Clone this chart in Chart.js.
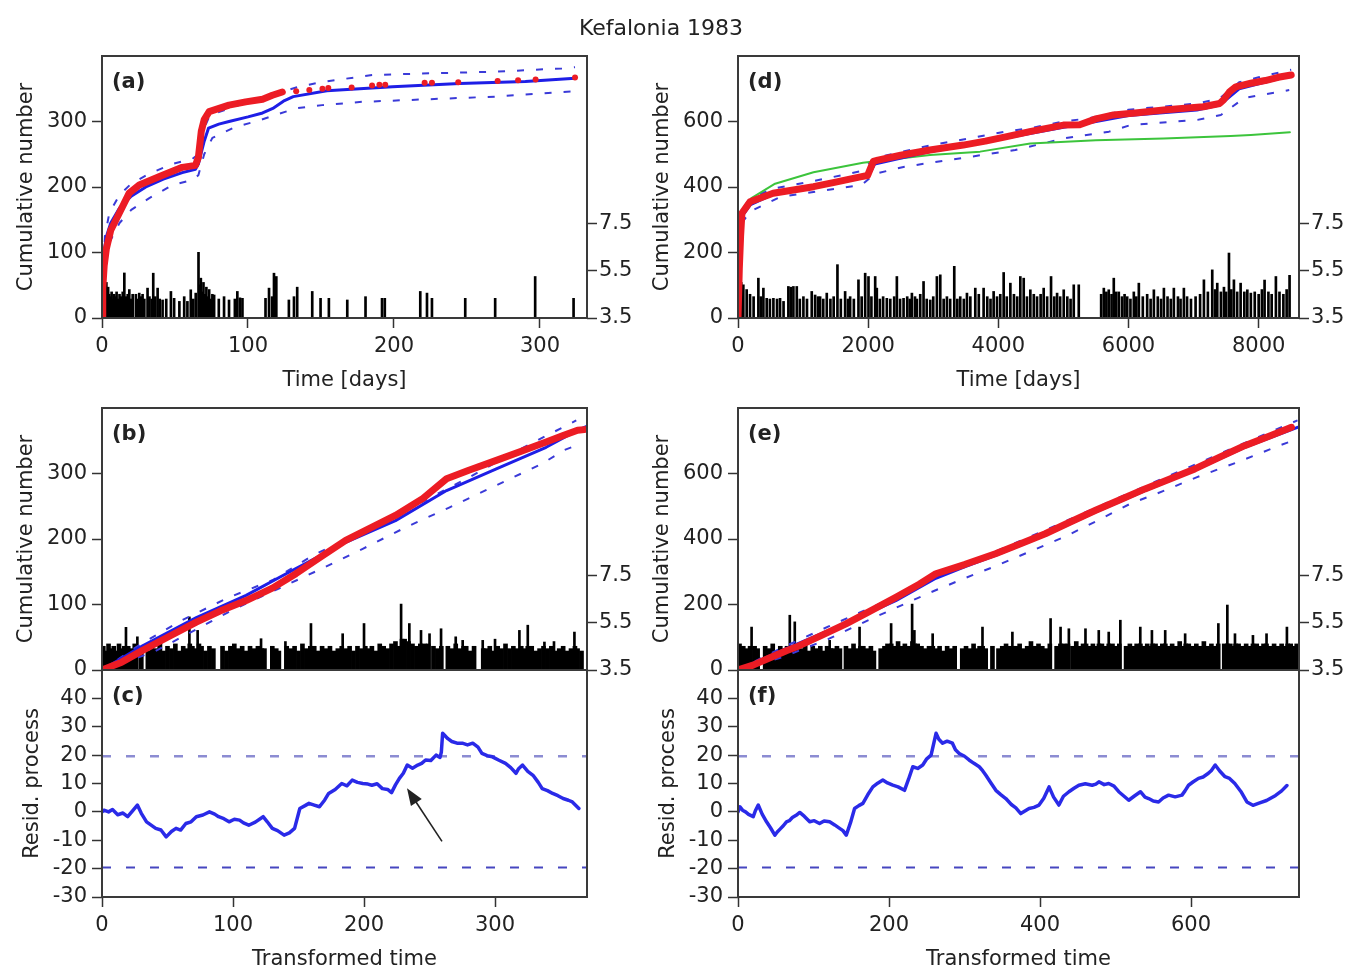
<!DOCTYPE html>
<html><head><meta charset="utf-8">
<script src="https://cdn.jsdelivr.net/npm/chart.js@4.4.1/dist/chart.umd.min.js"></script>
<style>
html,body{margin:0;padding:0;background:#fff;}
#wrap{position:relative;width:1354px;height:973px;overflow:hidden;}
#wrap canvas{position:absolute;left:0;top:0;}
</style></head><body><div id="wrap">
<canvas id="ca" width="1354" height="973"></canvas>
<canvas id="cd" width="1354" height="973"></canvas>
<canvas id="cb" width="1354" height="973"></canvas>
<canvas id="ce" width="1354" height="973"></canvas>
<canvas id="cc" width="1354" height="973"></canvas>
<canvas id="cf" width="1354" height="973"></canvas>
</div>
<script>
// ---------------- DATA ----------------
const figTitle = 'Kefalonia 1983';
const xTicksDaysA = [0, 100, 200, 300];
const xTicksDaysD = [0, 2000, 4000, 6000, 8000];
const xTicksTransC = [0, 100, 200, 300];
const xTicksTransF = [0, 200, 400, 600];
const yTicksA = [0, 100, 200, 300];
const yTicksD = [0, 200, 400, 600];
const yTicksResid = [-30, -20, -10, 0, 10, 20, 30, 40];
const magTicks = [3.5, 5.5, 7.5];

// (a) cumulative number vs time [days]
const redA_t = [0, 0.5, 1.5, 3, 6, 11.8, 18.7, 25.5, 41.5, 55, 64, 66, 68, 70, 73.4, 87, 98.4, 110, 116.7, 123.5];
const redA_n = [0, 45, 80, 106, 134, 160, 191, 203, 218, 230, 233, 245, 285, 303, 315, 325, 330, 334, 340, 345];
const redA_late_t = [133, 142, 151, 155, 171, 185, 190, 194, 221, 226, 244, 271, 285, 297, 324];
const redA_late_n = [346, 348, 350, 351, 352, 355, 356, 356, 359, 359, 360, 362, 363, 364, 367];
const blueA_t = [0, 1, 3, 6, 12, 20, 30, 42, 55, 64, 66, 70, 73, 80, 87, 100, 110, 117, 125, 131, 154, 199, 245, 290, 324];
const blueA_n = [0, 95, 124, 145, 168, 186, 200, 212, 222, 227, 235, 270, 290, 296, 300, 307, 313, 320, 332, 338, 347, 353, 358, 361, 366];
const upperA_t = [0, 2, 5, 12, 20, 32, 48, 62, 66, 70, 74, 90, 105, 119, 133, 150, 185, 224, 269, 315, 324];
const upperA_n = [0, 125, 160, 188, 205, 220, 235, 243, 250, 290, 310, 322, 334, 342, 352, 360, 371, 373.5, 376, 381, 383];
const lowerA_t = [0, 2, 5, 12, 20, 32.4, 48.3, 62, 66, 70, 75.6, 91.6, 105.3, 119, 132.7, 150.8, 178, 223.7, 269.3, 315, 324];
const lowerA_n = [0, 80, 115, 145, 165, 183, 203, 211, 218, 250, 275, 292, 300, 310, 320, 325, 330, 334, 338, 345, 346];
const magA = [[0.3,5.1],[0.8,4.9],[1.2,5.0],[1.6,5.25],[2.0,4.8],[2.5,4.7],[3.0,5.0],[3.5,4.6],[4.2,4.8],[5.0,4.5],[5.8,4.4],[6.6,4.6],[7.5,4.3],[8.3,4.5],[9.2,4.4],[10.0,4.6],[11.0,4.3],[12.0,4.5],[13.0,4.4],[14.2,4.6],[15.3,5.4],[16.5,4.4],[17.6,4.5],[18.7,4.7],[20.0,4.3],[21.0,4.5],[23.2,4.5],[24.5,4.3],[25.5,4.55],[26.8,4.4],[27.8,4.5],[29.0,4.3],[31.2,4.76],[32.5,4.4],[34.0,4.3],[35.1,5.39],[36.5,4.4],[38.1,4.76],[39.5,4.3],[41.5,4.26],[44,4.3],[47.2,4.62],[49.4,4.33],[53,4.2],[56.3,4.4],[58.5,4.2],[60.8,4.69],[62.5,4.3],[64.2,4.55],[66.1,6.27],[67.0,4.9],[67.7,5.18],[68.5,4.6],[69.5,5.0],[70.5,4.5],[71.5,4.8],[72.5,4.4],[73.4,4.7],[74.5,4.3],[75.6,4.5],[76.8,4.47],[80,4.3],[83.6,4.4],[87,4.26],[91,4.3],[92.7,4.62],[94.5,4.35],[96.2,4.33],[112,4.33],[114.4,4.76],[116.5,4.4],[117.8,5.39],[119.4,5.25],[128,4.26],[131.5,4.4],[133.7,4.8],[144,4.62],[149.7,4.33],[155.4,4.33],[168,4.26],[180.5,4.4],[191.8,4.33],[193.7,4.33],[218,4.62],[222.6,4.55],[226,4.33],[248.8,4.33],[269.3,4.33],[296.7,5.25],[323,4.33]];

// (d) cumulative number vs time [days], long period
const redD_t = [0, 20, 40, 60, 185, 540, 1160, 1500, 1880, 1990, 2080, 2150, 2500, 2950, 3460, 3800, 4130, 4500, 5000, 5250, 5500, 5770, 6100, 6540, 7150, 7400, 7460, 7550, 7650, 7880, 8100, 8300, 8500];
const redD_n = [0, 150, 250, 320, 355, 381, 401, 415, 431, 435, 478, 482, 497, 513, 528, 540, 554, 570, 589, 590, 608, 620, 626, 635, 645, 655, 666, 690, 706, 717, 725, 735, 742];
const blueD_t = [0, 30, 60, 185, 540, 1160, 1880, 2000, 2100, 2950, 3460, 4130, 5000, 5500, 6000, 7050, 7400, 7700, 8000, 8500];
const blueD_n = [0, 250, 310, 345, 378, 400, 428, 432, 470, 508, 525, 550, 582, 600, 618, 635, 650, 700, 715, 740];
const upperD_t = [0, 60, 185, 540, 1160, 1880, 2100, 2950, 3460, 4130, 4500, 5000, 5400, 6000, 7050, 7400, 7700, 8000, 8500];
const upperD_n = [0, 330, 365, 395, 418, 448, 488, 527, 545, 570, 580, 600, 610, 636, 655, 670, 720, 735, 758];
const lowerD_t = [0, 60, 185, 650, 1570, 1900, 2100, 2560, 3230, 4260, 5030, 5700, 6030, 7060, 7420, 7780, 8470];
const lowerD_n = [0, 290, 325, 370, 397, 406, 440, 462, 482, 513, 549, 569, 589, 605, 620, 672, 696];
const greenD_t = [0, 30, 60, 200, 570, 1160, 1920, 2950, 3720, 4490, 5500, 6540, 7570, 7880, 8480];
const greenD_n = [0, 250, 320, 365, 410, 445, 474, 498, 508, 533, 543, 548, 556, 559, 567];
const magD = [[0,5.4],[15,5.3],[31,5.39],[50,5.0],[82,4.9],[133,4.7],[185,4.5],[240,4.4],[313,5.18],[350,4.4],[390,4.76],[441,4.33],[490,4.3],[544,4.33],[600,4.3],[646,4.33],[700,4.2],[774,4.83],[810,4.8],[851,4.83],[903,4.83],[950,4.3],[1005,4.4],[1060,4.3],[1133,4.62],[1185,4.47],[1230,4.4],[1262,4.4],[1310,4.3],[1364,4.55],[1420,4.3],[1470,4.4],[1528,5.75],[1580,4.3],[1646,4.62],[1690,4.3],[1723,4.4],[1780,4.3],[1851,5.11],[1900,4.4],[1954,5.39],[2005,5.25],[2050,4.4],[2108,5.25],[2133,4.76],[2180,4.3],[2230,4.4],[2287,4.33],[2340,4.3],[2400,4.4],[2441,5.25],[2490,4.3],[2544,4.33],[2600,4.4],[2640,4.3],[2672,4.55],[2720,4.4],[2749,4.3],[2800,4.5],[2851,5.04],[2900,4.3],[2954,4.26],[3000,4.4],[3056,5.25],[3108,5.32],[3160,4.3],[3210,4.4],[3260,4.3],[3323,5.68],[3370,4.3],[3415,4.4],[3470,4.3],[3518,4.55],[3570,4.4],[3646,4.76],[3700,4.5],[3774,4.76],[3830,4.4],[3880,4.3],[3928,4.62],[3980,4.4],[4030,4.5],[4082,5.42],[4130,4.4],[4185,4.97],[4240,4.5],[4290,4.4],[4338,5.25],[4390,5.18],[4440,4.4],[4492,4.69],[4545,4.5],[4595,4.4],[4650,4.5],[4697,4.76],[4750,4.4],[4810,5.25],[4860,4.4],[4903,4.55],[4950,4.4],[5005,4.69],[5060,4.4],[5110,4.3],[5159,4.9],[5236,4.9],[5580,4.5],[5621,4.76],[5660,4.6],[5697,4.69],[5740,4.5],[5774,5.18],[5810,4.6],[5851,4.6],[5900,4.4],[5940,4.5],[5980,4.4],[6030,4.3],[6082,4.6],[6120,4.4],[6159,4.97],[6220,4.4],[6287,4.5],[6340,4.3],[6390,4.69],[6450,4.4],[6500,4.3],[6544,4.76],[6600,4.4],[6650,4.3],[6697,4.76],[6760,4.4],[6800,4.3],[6851,4.76],[6900,4.4],[6960,4.3],[7031,4.4],[7100,4.5],[7159,5.11],[7220,4.6],[7287,5.53],[7330,4.7],[7364,4.97],[7420,4.6],[7467,4.8],[7500,4.6],[7544,6.24],[7580,4.7],[7620,5.11],[7670,4.6],[7723,4.97],[7780,4.6],[7826,4.69],[7880,4.55],[7940,4.6],[8000,4.5],[8050,4.7],[8091,5.1],[8150,4.6],[8200,4.5],[8265,5.25],[8320,4.6],[8380,4.5],[8430,4.7],[8475,5.3]];

// (b) cumulative number vs transformed time (short period)
const redB_t = [0, 15, 31, 50, 72, 90, 110, 130, 148, 165, 186, 205, 224, 245, 263, 280, 301, 320, 339, 352, 363, 368];
const redB_n = [0, 12, 30, 50, 73, 90, 106, 125, 147, 170, 198, 217, 236, 262, 292, 305, 320, 334, 348, 358, 366, 367];
const blueB_t = [0, 31, 72, 110, 148, 186, 224, 263, 301, 339, 363, 370];
const blueB_n = [0, 37, 80, 114, 155, 195, 228, 274, 307, 340, 366, 372];
const upperB_t = [0, 30, 60, 97, 130, 161, 200, 240, 280, 320, 362];
const upperB_n = [0, 40, 75, 111, 137, 175, 212, 252, 294, 338, 381];
const lowerB_t = [0, 40, 100, 168, 199, 232, 265, 301, 336, 352, 362];
const lowerB_n = [0, 28, 92, 155, 185, 218, 248, 282, 315, 335, 343];
const magBandB = [[1,4.5],[3,4.3],[5,4.6],[7,4.4],[9,4.5],[11,4.3],[13,4.6],[15,4.4],[17,4.5],[20,4.5],[22,4.4],[25,4.6],[30,4.4],[35,4.3],[38,4.5],[41,4.4],[44,4.6],[47,4.3],[50,4.5],[53,4.4],[56,4.6],[59,4.3],[62,4.5],[64,4.4],[67,4.6],[69,4.5],[71,4.4],[74,4.6],[76,4.5],[79,4.3],[82,4.5],[85,4.4],[92,4.5],[95,4.3],[98,4.5],[101,4.6],[104,4.4],[107,4.5],[110,4.3],[113,4.5],[116,4.4],[119,4.5],[122,4.4],[124,4.4],[130,4.5],[133,4.4],[135,4.3],[141,4.5],[144,4.4],[147,4.5],[150,4.3],[153,4.6],[156,4.4],[159,4.5],[162,4.5],[165,4.3],[168,4.5],[171,4.4],[174,4.5],[177,4.3],[180,4.4],[183,4.5],[186,4.4],[189,4.5],[192,4.3],[195,4.5],[198,4.4],[201,4.5],[203,4.4],[206,4.5],[209,4.3],[212,4.6],[215,4.5],[218,4.4],[221,4.6],[224,4.7],[226,4.5],[229,4.8],[231,4.8],[234,4.7],[237,4.6],[240,4.5],[243,4.6],[246,4.6],[249,4.6],[253,4.5],[256,4.4],[259,4.5],[264,4.5],[267,4.4],[270,4.6],[273,4.4],[276,4.5],[278,4.5],[281,4.3],[284,4.5],[291,4.4],[293,4.4],[296,4.5],[299,4.3],[302,4.5],[305,4.4],[308,4.6],[311,4.4],[314,4.5],[317,4.4],[320,4.5],[322,4.4],[325,4.5],[328,4.5],[331,4.3],[334,4.4],[337,4.5],[340,4.4],[343,4.5],[346,4.3],[349,4.4],[352,4.5],[355,4.3],[358,4.4],[361,4.5],[363,4.4],[366,4.3]];
const magSpikesB = [[18.3,5.3],[27,4.9],[45,4.8],[66.7,5.74],[73,5.17],[121.4,4.82],[140,4.7],[159.5,5.46],[183.7,5.03],[200,5.46],[228.3,6.28],[234.6,5.46],[243.5,5.17],[250,5.03],[258.8,5.24],[270,4.9],[275.3,4.75],[290.6,4.75],[300,4.8],[318.6,5.17],[325,5.39],[337.7,4.68],[345,4.7],[360.6,5.1]];

// (e) cumulative number vs transformed time (long period)
const redE_t = [0, 20, 40, 64, 77, 110, 143, 175, 209, 240, 262, 300, 341, 375, 407, 440, 473, 506, 539, 572, 605, 638, 671, 705, 733];
const redE_n = [0, 15, 35, 59, 70, 105, 141, 180, 222, 262, 294, 322, 355, 386, 416, 452, 487, 520, 553, 583, 614, 650, 685, 715, 741];
const blueE_t = [0, 64, 143, 209, 262, 300, 341, 407, 473, 539, 605, 671, 741];
const blueE_n = [0, 65, 143, 212, 280, 315, 350, 412, 482, 548, 610, 680, 741];
const upperE_t = [0, 60, 120, 200, 300, 400, 500, 600, 700, 741];
const upperE_n = [0, 70, 133, 215, 322, 420, 522, 622, 722, 762];
const lowerE_t = [0, 60, 120, 180, 256, 300, 343, 390, 431, 475, 519, 565, 608, 661, 718, 740];
const lowerE_n = [0, 40, 95, 160, 238, 280, 319, 365, 405, 455, 507, 548, 589, 634, 686, 705];
const magBandE = [[2,4.6],[7,4.5],[12,4.4],[16,4.5],[22,4.5],[26,4.4],[36,4.5],[41,4.4],[46,4.6],[51,4.3],[56,4.5],[61,4.4],[65,4.5],[70,4.5],[74,4.4],[79,4.5],[84,4.4],[89,4.6],[94,4.3],[99,4.5],[104,4.4],[109,4.5],[114,4.3],[118,4.5],[123,4.4],[126,4.4],[131,4.5],[135,4.4],[143,4.5],[148,4.4],[153,4.6],[157,4.4],[162,4.5],[166,4.5],[171,4.4],[176,4.5],[180,4.3],[189,4.4],[194,4.5],[198,4.6],[203,4.6],[207,4.5],[212,4.7],[217,4.5],[221,4.6],[226,4.5],[231,4.7],[234,4.6],[238,4.6],[243,4.5],[248,4.4],[253,4.5],[258,4.5],[262,4.4],[267,4.5],[272,4.3],[277,4.5],[282,4.4],[287,4.5],[297,4.4],[302,4.5],[307,4.4],[312,4.6],[317,4.4],[320,4.5],[324,4.5],[328,4.4],[337,4.5],[345,4.4],[350,4.5],[355,4.6],[359,4.5],[364,4.5],[368,4.5],[373,4.6],[378,4.4],[383,4.5],[388,4.7],[393,4.5],[398,4.6],[403,4.5],[408,4.4],[413,4.6],[422,4.5],[427,4.6],[432,4.6],[437,4.6],[443,4.5],[448,4.7],[453,4.5],[457,4.6],[461,4.6],[465,4.5],[470,4.6],[474,4.5],[478,4.6],[482,4.6],[487,4.5],[491,4.6],[496,4.6],[501,4.5],[505,4.6],[514,4.5],[519,4.6],[524,4.5],[528,4.6],[533,4.6],[537,4.5],[542,4.6],[545,4.5],[549,4.6],[553,4.6],[558,4.5],[562,4.6],[566,4.6],[570,4.5],[575,4.6],[580,4.5],[585,4.7],[589,4.5],[593,4.6],[597,4.6],[602,4.5],[607,4.6],[612,4.5],[617,4.7],[622,4.5],[627,4.6],[632,4.5],[636,4.6],[644,4.6],[648,4.6],[652,4.6],[655,4.5],[659,4.6],[663,4.6],[668,4.5],[673,4.6],[677,4.5],[682,4.6],[687,4.6],[692,4.5],[696,4.6],[700,4.6],[705,4.5],[710,4.6],[715,4.5],[720,4.6],[724,4.5],[728,4.6],[732,4.6],[736,4.5],[740,4.6]];
const magSpikesE = [[18,5.31],[68.6,5.81],[75.2,5.53],[121.4,4.75],[161,5.31],[202.8,5.46],[230.6,6.28],[233.6,5.17],[257.8,5.03],[323.8,5.31],[363.4,5.1],[414,5.67],[427.2,5.31],[438.2,5.24],[460.2,5.24],[477.8,5.17],[491,5.1],[506.4,5.6],[532.8,5.31],[548.2,5.17],[565.8,5.17],[592.2,5.03],[636.2,5.46],[648.1,6.24],[658.2,5.03],[682,4.96],[700,5.03],[727,5.31]];

// (c), (f) residual processes
const residC_t = [0, 1.5, 5, 8, 12, 16, 19.6, 23, 27, 30, 34, 41, 45, 49, 53, 56.5, 60, 64, 68, 72, 77, 82, 86, 89, 93, 97, 101, 105, 108, 112, 117, 123, 126, 130, 134, 139, 143, 147, 151, 155, 158, 162, 166, 170, 173, 178, 183, 187, 191, 195, 199, 203, 206, 210, 214, 218, 221, 224, 227, 230, 233, 237, 241, 244, 247, 251, 255, 258, 259, 260, 264, 267, 271, 275, 279, 283, 287, 290, 294, 298, 303, 308, 312, 316, 318, 321, 325, 329, 333, 336, 340, 344, 348, 352, 356, 359, 364];
const residC_v = [0, 0.6, 0, 0.8, -1, -0.4, -1.7, 0.2, 2.4, -0.5, -3.5, -5.8, -6.4, -8.8, -6.9, -5.8, -6.4, -4.1, -3.5, -1.7, -1.1, 0, -0.8, -1.7, -2.4, -3.5, -2.6, -2.9, -3.9, -4.7, -3.6, -1.7, -3.4, -5.8, -6.6, -8.2, -7.4, -5.8, 1.2, 2.2, 3, 2.4, 1.8, 4.2, 6.5, 7.9, 10, 9.2, 11.2, 10.4, 10, 9.8, 9.4, 9.9, 8.2, 7.9, 6.8, 9.5, 11.8, 13.6, 16.5, 15.4, 16.5, 17.1, 18.3, 18.1, 20, 19.2, 21, 27.7, 25.8, 24.8, 24.2, 24.2, 23.6, 24.2, 22.8, 20.6, 19.8, 19.4, 18.2, 17.1, 15.6, 13.6, 15.2, 16.5, 14.3, 12.9, 10.4, 8.2, 7.5, 6.5, 5.7, 4.7, 4.1, 3.5, 1.2];
const residF_t = [0, 2.6, 6, 10, 14, 20.2, 23, 26.8, 32, 37.8, 43, 48.8, 52, 56, 60, 64.2, 68, 72, 77, 81.8, 88, 95, 101, 108, 114, 121.4, 128, 134.6, 139, 143.4, 149, 154.4, 160, 165.4, 172, 178.6, 185, 191.8, 198, 205, 212, 220.5, 226, 231.5, 238, 244.7, 250, 255.7, 262.3, 266, 271, 277, 284, 288, 293, 300, 306, 312, 319.5, 324, 328.3, 335, 341.5, 348, 354.7, 362, 368, 374.5, 380, 385.5, 392, 398.7, 405, 412, 418, 425, 431, 438.3, 445, 451.5, 460, 469, 474, 478, 485, 491, 498, 504.3, 511, 517.5, 525, 533, 539, 543.9, 550, 557, 563, 570.3, 579, 588, 592, 596.7, 603, 609.9, 616, 623, 627, 632, 638, 645, 651, 658, 666, 674, 682, 690, 700, 706, 712, 720, 727];
const residF_v = [0, 1.8, 0.6, 0, -0.9, -1.7, 0.4, 2.4, -0.8, -3.5, -5.6, -8.2, -7.1, -6, -4.9, -3.5, -3.1, -2, -1.2, -0.2, -1.6, -3.5, -3.1, -4.1, -3.2, -3.5, -4.6, -5.8, -6.6, -8.2, -3.8, 1.2, 2.2, 3, 6.1, 8.8, 10.1, 11.2, 10.2, 9.4, 8.8, 7.6, 11.6, 15.9, 15.3, 16.5, 18.7, 20, 27.7, 25.6, 24.2, 24.9, 24.2, 21.9, 20.6, 19.6, 18.3, 17.2, 15.9, 14.5, 12.9, 10.2, 7.6, 6.1, 4.7, 2.6, 1.4, -0.6, 0.3, 1.2, 1.6, 2.4, 4.8, 8.8, 5.2, 2.4, 5.5, 7.1, 8.3, 9.4, 9.9, 9.4, 9.8, 10.6, 9.6, 10, 9.1, 7.1, 5.6, 4.1, 5.6, 7.1, 5.2, 4.7, 3.8, 3.5, 4.9, 5.9, 5.3, 5.9, 7.4, 9.4, 10.6, 11.8, 12.3, 13.6, 14.6, 16.5, 14.4, 12.4, 11.8, 10, 7.2, 3.5, 2.3, 3.1, 4, 4.9, 5.8, 7.4, 9.3];
const residLimits = [19.6, -19.6];
const arrowC = {tail: [259.5, -10.4], head: [232.8, 8.3]};

// ---------------- STYLE / LAYOUT ----------------
const FONT = "'DejaVu Sans', 'Liberation Sans', sans-serif";
Chart.defaults.font.family = FONT;
Chart.defaults.font.size = 21;
Chart.defaults.color = '#222';
const W = 1354, H = 973, WL = 102, WR = 50, HB = 76;
const TXT = '#222', AXC = '#333';
const RED = '#ec1c24', BLUE = '#1e1ee6', DASHB = '#3a3ad8', GREEN = '#3cc43c';

const pts = (xs, ys) => xs.map((x, i) => ({x: x, y: ys[i]}));
const pairPts = arr => arr.map(p => ({x: p[0], y: p[1]}));
const fixedTicks = vals => (s => { s.ticks = vals.map(v => ({value: v})); });

function lineDs(data, color, width, extra) {
  return Object.assign({type: 'line', data: data, borderColor: color, backgroundColor: color, borderWidth: width,
    pointRadius: 0, fill: false, tension: 0, yAxisID: 'y', xAxisID: 'x', order: 2,
    borderCapStyle: 'round', borderJoinStyle: 'round'}, extra || {});
}
function barDs(data, thick) {
  return {type: 'bar', data: data, backgroundColor: '#000', borderWidth: 0, barThickness: thick,
    base: 3.5, grouped: false, yAxisID: 'ym', xAxisID: 'x', order: 10};
}
const gridOpts = () => ({display: true, offset: false, drawOnChartArea: false, drawTicks: true, tickLength: 10, tickColor: AXC, tickWidth: 1.5});

const panelPlugin = {
  id: 'panel',
  afterDatasetsDraw(chart, args, o) {
    const ctx = chart.ctx, a = chart.chartArea;
    ctx.save();
    ctx.lineWidth = 2; ctx.strokeStyle = '#3a3a3a';
    ctx.strokeRect(a.left, a.top, a.right - a.left, a.bottom - a.top);
    ctx.fillStyle = TXT; ctx.font = "bold 21px " + FONT;
    ctx.textBaseline = 'middle'; ctx.textAlign = 'left';
    ctx.fillText(o.label, a.left + 10, a.top + 27);
    if (o.arrow) {
      const xs = chart.scales.x, ys = chart.scales.y;
      const x1 = xs.getPixelForValue(o.arrow.tail[0]), y1 = ys.getPixelForValue(o.arrow.tail[1]);
      const x2 = xs.getPixelForValue(o.arrow.head[0]), y2 = ys.getPixelForValue(o.arrow.head[1]);
      const ang = Math.atan2(y2 - y1, x2 - x1), hl = 17, hw = 6.5;
      ctx.strokeStyle = '#222'; ctx.lineWidth = 1.6;
      ctx.beginPath(); ctx.moveTo(x1, y1);
      ctx.lineTo(x2 - hl * 0.7 * Math.cos(ang), y2 - hl * 0.7 * Math.sin(ang)); ctx.stroke();
      ctx.beginPath(); ctx.moveTo(x2, y2);
      ctx.lineTo(x2 - hl * Math.cos(ang) + hw * Math.sin(ang), y2 - hl * Math.sin(ang) - hw * Math.cos(ang));
      ctx.lineTo(x2 - hl * Math.cos(ang) - hw * Math.sin(ang), y2 - hl * Math.sin(ang) + hw * Math.cos(ang));
      ctx.closePath(); ctx.fillStyle = '#222'; ctx.fill();
    }
    if (o.title) {
      ctx.font = "22px " + FONT; ctx.textAlign = 'center'; ctx.fillStyle = TXT;
      ctx.fillText(o.title, o.titleX, o.titleY);
    }
    ctx.restore();
  }
};

function makePanel(id, p) {
  const hasBars = !!p.hasBars;
  const showX = !!p.xTitle;
  const padding = {
    left: p.area.left - WL,
    top: p.area.top,
    right: W - p.area.right - (hasBars ? WR : 0),
    bottom: H - p.area.bottom - (showX ? HB : 0)
  };
  const scales = {
    x: {type: 'linear', min: p.x[0], max: p.x[1], display: showX, offset: false,
      afterFit: s => { if (showX) s.height = HB; },
      afterBuildTicks: fixedTicks(p.xTicks || []),
      ticks: {padding: 6, autoSkip: false, maxRotation: 0, color: TXT, callback: v => String(v)},
      grid: gridOpts(), border: {display: false},
      title: {display: showX, text: p.xTitle || '', color: TXT, padding: {top: 0, bottom: 1}}},
    y: {type: 'linear', position: 'left', min: p.y[0], max: p.y[1], offset: false,
      afterFit: s => { s.width = WL; },
      afterBuildTicks: fixedTicks(p.yTicks),
      ticks: {padding: 5, autoSkip: false, color: TXT, callback: v => String(v)},
      grid: gridOpts(), border: {display: false},
      title: {display: true, text: p.yTitle, color: TXT, padding: {top: p.yTitlePad, bottom: 0}}}
  };
  if (hasBars) {
    scales.ym = {type: 'linear', position: 'right', min: 3.5, max: 14.55, offset: false,
      afterFit: s => { s.width = WR; },
      afterBuildTicks: fixedTicks(magTicks),
      ticks: {padding: 2, autoSkip: false, color: TXT, callback: v => Number(v).toFixed(1)},
      grid: gridOpts(), border: {display: false}};
  }
  return new Chart(document.getElementById(id), {
    type: 'line',
    data: {datasets: p.datasets},
    options: {
      responsive: false, animation: false, devicePixelRatio: 1, events: [],
      layout: {padding: padding},
      scales: scales,
      plugins: {legend: {display: false}, tooltip: {enabled: false},
        panel: {label: p.label, arrow: p.arrow || null, title: p.title || null, titleX: 661, titleY: 29}}
    },
    plugins: [panelPlugin]
  });
}

const dashed = (xs, ys) => lineDs(pts(xs, ys), DASHB, 2, {borderDash: [7, 12], borderCapStyle: 'butt', order: 4});
const AREA_L = {left: 102, right: 587}, AREA_R = {left: 738, right: 1299};

// (a)
makePanel('ca', {
  area: {left: AREA_L.left, right: AREA_L.right, top: 56, bottom: 318},
  x: [0, 332.2], xTicks: xTicksDaysA, xTitle: 'Time [days]',
  y: [0, 400], yTicks: yTicksA, yTitle: 'Cumulative number', yTitlePad: 14,
  hasBars: true, label: '(a)', title: figTitle,
  datasets: [
    barDs(pairPts(magA), 2),
    dashed(upperA_t, upperA_n), dashed(lowerA_t, lowerA_n),
    lineDs(pts(blueA_t, blueA_n), BLUE, 3, {order: 2}),
    lineDs(pts(redA_t, redA_n), RED, 7, {order: 1}),
    lineDs(pts(redA_late_t, redA_late_n), RED, 0, {showLine: false, pointRadius: 3, pointBorderWidth: 0, pointBackgroundColor: RED, order: 1})
  ]
});
// (d)
makePanel('cd', {
  area: {left: AREA_R.left, right: AREA_R.right, top: 56, bottom: 318},
  x: [0, 8620], xTicks: xTicksDaysD, xTitle: 'Time [days]',
  y: [0, 800], yTicks: yTicksD, yTitle: 'Cumulative number', yTitlePad: 14,
  hasBars: true, label: '(d)',
  datasets: [
    barDs(pairPts(magD), 2),
    dashed(upperD_t, upperD_n), dashed(lowerD_t, lowerD_n),
    lineDs(pts(greenD_t, greenD_n), GREEN, 2, {order: 3}),
    lineDs(pts(blueD_t, blueD_n), BLUE, 3, {order: 2}),
    lineDs(pts(redD_t, redD_n), RED, 7, {order: 1})
  ]
});
// (b)
makePanel('cb', {
  area: {left: AREA_L.left, right: AREA_L.right, top: 408, bottom: 670},
  x: [0, 370.2], xTicks: [],
  y: [0, 400], yTicks: yTicksA, yTitle: 'Cumulative number', yTitlePad: 14,
  hasBars: true, label: '(b)',
  datasets: [
    barDs(pairPts(magBandB), 4), barDs(pairPts(magSpikesB), 2),
    dashed(upperB_t, upperB_n), dashed(lowerB_t, lowerB_n),
    lineDs(pts(blueB_t, blueB_n), BLUE, 3, {order: 2}),
    lineDs(pts(redB_t, redB_n), RED, 7, {order: 1})
  ]
});
// (e)
makePanel('ce', {
  area: {left: AREA_R.left, right: AREA_R.right, top: 408, bottom: 670},
  x: [0, 743], xTicks: [],
  y: [0, 800], yTicks: yTicksD, yTitle: 'Cumulative number', yTitlePad: 14,
  hasBars: true, label: '(e)',
  datasets: [
    barDs(pairPts(magBandE), 4), barDs(pairPts(magSpikesE), 2),
    dashed(upperE_t, upperE_n), dashed(lowerE_t, lowerE_n),
    lineDs(pts(blueE_t, blueE_n), BLUE, 3, {order: 2}),
    lineDs(pts(redE_t, redE_n), RED, 7, {order: 1})
  ]
});
// residual panels
function residPanel(id, area, xmax, xTicks, t, v, label, arrow) {
  return makePanel(id, {
    area: area, x: [0, xmax], xTicks: xTicks, xTitle: 'Transformed time',
    y: [-30, 50], yTicks: yTicksResid, yTitle: 'Resid. process', yTitlePad: 20,
    hasBars: false, label: label, arrow: arrow,
    datasets: [
      lineDs(pts([0, xmax], [residLimits[0], residLimits[0]]), '#8c8cd2', 2.5, {borderDash: [9, 15], borderCapStyle: 'butt', order: 4}),
      lineDs(pts([0, xmax], [residLimits[1], residLimits[1]]), '#4646c0', 2, {borderDash: [9, 15], borderCapStyle: 'butt', order: 4}),
      lineDs(pts(t, v), '#2a2ae8', 3.5, {order: 1})
    ]
  });
}
residPanel('cc', {left: AREA_L.left, right: AREA_L.right, top: 670, bottom: 897}, 370.2, xTicksTransC, residC_t, residC_v, '(c)', arrowC);
residPanel('cf', {left: AREA_R.left, right: AREA_R.right, top: 670, bottom: 897}, 743, xTicksTransF, residF_t, residF_v, '(f)', null);
</script>
</body></html>
